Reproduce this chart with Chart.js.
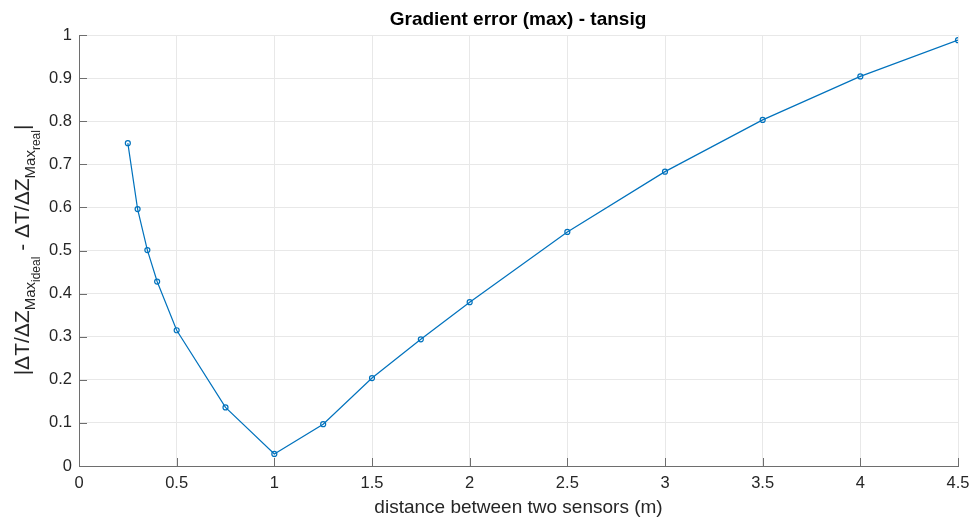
<!DOCTYPE html>
<html>
<head>
<meta charset="utf-8">
<script src="https://cdn.jsdelivr.net/npm/chart.js@4"></script>
<style>
  body { margin: 0; background: #fff; }
  #wrap { position: relative; width: 974px; height: 519px; font-family: "Liberation Sans", Arial, sans-serif; }
  #title {
    position: absolute; left: 518px; top: 19px;
    transform: translate(-50%, -50%);
    white-space: nowrap; font-weight: 700; font-size: 19px; color: #000;
  }
</style>
</head>
<body>
<div id="wrap">
  <canvas id="errChart" width="974" height="519"></canvas>
  <div id="title">Gradient error (max) - tansig</div>
</div>
<script>
// Data
const distances = [0.25, 0.3, 0.35, 0.4, 0.5, 0.75, 1, 1.25, 1.5, 1.75, 2, 2.5, 3, 3.5, 4, 4.5];
const gradError = [0.749, 0.596, 0.501, 0.428, 0.315, 0.136, 0.028, 0.097, 0.204, 0.294, 0.380, 0.543, 0.683, 0.803, 0.904, 0.988];
const xTicks = [0, 0.5, 1, 1.5, 2, 2.5, 3, 3.5, 4, 4.5];
const yTicks = [0, 0.1, 0.2, 0.3, 0.4, 0.5, 0.6, 0.7, 0.8, 0.9, 1];

const fontFam = '"Liberation Sans", Arial, sans-serif';
const textCol = '#262626';

// y label pieces: [text, font size, baseline shift]
const yLabelParts = [
  ['|\u0394T/\u0394Z', 21, 0], ['Max', 15, 6], ['ideal', 12, 11],
  [' - \u0394T/\u0394Z', 21, 0], ['Max', 15, 6], ['real', 12, 11], ['|', 21, 0]
];

// draws the rotated y label with subscripts
const yLabelPlugin = {
  id: 'yLabel',
  afterDraw(chart) {
    const c = chart.ctx;
    c.save();
    let total = 0;
    yLabelParts.forEach(p => {
      c.font = p[1] + 'px ' + fontFam;
      total += c.measureText(p[0]).width;
    });
    c.translate(29, 250);
    c.rotate(-Math.PI / 2);
    c.fillStyle = textCol;
    c.textBaseline = 'alphabetic';
    let x = -total / 2;
    yLabelParts.forEach(p => {
      c.font = p[1] + 'px ' + fontFam;
      c.fillText(p[0], x, p[2]);
      x += c.measureText(p[0]).width;
    });
    c.restore();
  }
};

// small inward tick marks like matlab
const innerTicks = {
  id: 'innerTicks',
  afterDraw(chart) {
    const c = chart.ctx;
    const xs = chart.scales.x, ys = chart.scales.y;
    const a = chart.chartArea;
    c.save();
    c.strokeStyle = '#6e6e6e';
    c.lineWidth = 1;
    c.beginPath();
    xTicks.forEach(v => {
      const px = Math.round(xs.getPixelForValue(v)) + 0.5;
      c.moveTo(px, a.bottom);
      c.lineTo(px, a.bottom - 8);
    });
    yTicks.forEach(v => {
      const py = Math.round(ys.getPixelForValue(v)) + 0.5;
      c.moveTo(a.left, py);
      c.lineTo(a.left + 8, py);
    });
    c.stroke();
    c.restore();
  }
};

const ctx = document.getElementById('errChart').getContext('2d');
new Chart(ctx, {
  type: 'line',
  data: {
    datasets: [{
      data: distances.map((d, i) => ({ x: d, y: gradError[i] })),
      borderColor: '#0072BD',
      borderWidth: 1.2,
      pointRadius: 2.5,
      pointBorderWidth: 1.2,
      pointBackgroundColor: 'rgba(0,0,0,0)',
      pointBorderColor: '#0072BD',
      tension: 0
    }]
  },
  options: {
    responsive: false,
    animation: false,
    layout: { padding: { left: 0, right: 16, top: 35, bottom: 0 } },
    plugins: {
      legend: { display: false },
      tooltip: { enabled: false },
      title: { display: false }
    },
    scales: {
      x: {
        type: 'linear',
        min: 0, max: 4.5,
        afterBuildTicks: axis => { axis.ticks = xTicks.map(v => ({ value: v })); },
        afterFit: axis => { axis.height = 53; axis.paddingRight = 0; axis.paddingLeft = 0; },
        ticks: {
          color: textCol, font: { family: fontFam, size: 16.5 }, padding: 8,
          maxRotation: 0,
          callback: v => String(v)
        },
        grid: { color: '#e8e8e8', tickLength: 0 },
        border: { color: '#6e6e6e', width: 1 },
        title: {
          display: true,
          text: 'distance between two sensors (m)',
          color: textCol,
          font: { family: fontFam, size: 19 },
          padding: { top: 0, bottom: 0 }
        }
      },
      y: {
        min: 0, max: 1,
        afterBuildTicks: axis => { axis.ticks = yTicks.map(v => ({ value: v })); },
        afterFit: axis => { axis.width = 79; axis.paddingTop = 0; axis.paddingBottom = 0; },
        ticks: {
          color: textCol, font: { family: fontFam, size: 16.5 }, padding: 7,
          callback: v => String(v)
        },
        grid: { color: '#e8e8e8', tickLength: 0 },
        border: { color: '#6e6e6e', width: 1 }
      }
    }
  },
  plugins: [yLabelPlugin, innerTicks]
});
</script>
</body>
</html>
